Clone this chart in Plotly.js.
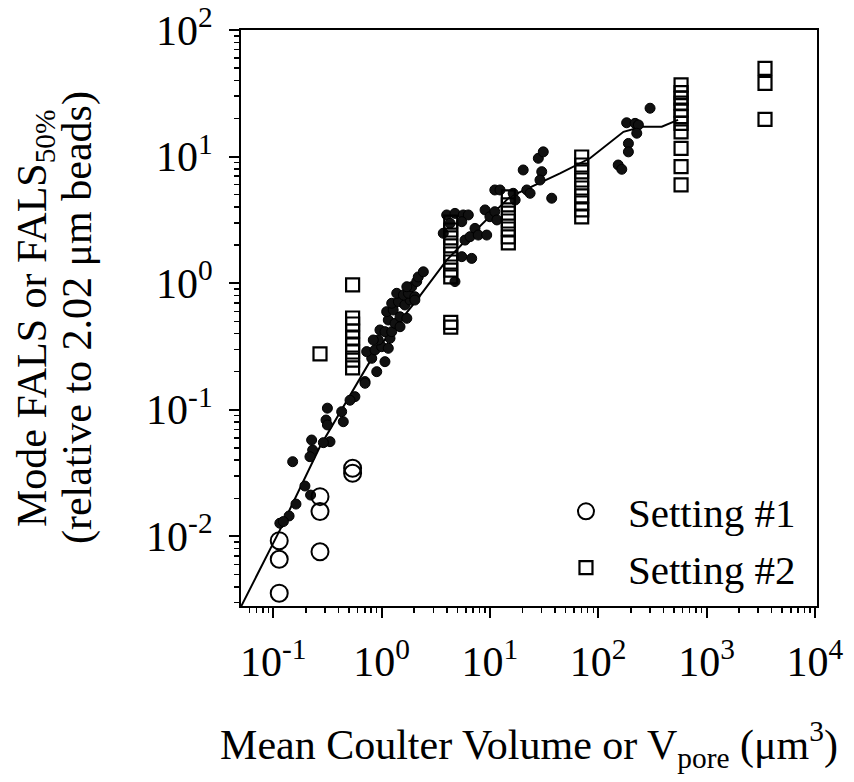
<!DOCTYPE html>
<html>
<head>
<meta charset="utf-8">
<script src="https://cdn.plot.ly/plotly-3.0.1.min.js"></script>
<style>html,body{margin:0;padding:0;background:#fff;}#chart{width:854px;height:782px;}</style>
</head>
<body>
<div id="chart"></div>
<script>
// Filled dots (unlabelled data)
var dotsX = [0.703,0.567,0.511,0.316,0.428,0.443,0.307,0.316,0.334,0.290,0.226,0.231,0.218,0.151,0.196,0.221,0.162,0.140,0.115,0.124,
  0.703,0.902,1.074,0.811,0.728,0.869,1.002,1.153,0.933,0.838,1.196,0.966,1.074,1.24,1.153,1.33,1.48,1.114,1.28,1.48,1.71,1.24,1.43,1.64,1.83,1.38,1.59,1.77,2.03,1.90,2.11,2.18,2.43,2.03,1.71,
  3.71,3.99,4.76,5.68,6.32,4.29,5.50,5.89,6.55,5.50,6.79,4.76,7.28,7.81,9.34,9.02,10.0,11.1,11.6,11.1,12.4,16.4,17.1,21.9,23.5,20.3,28.0,31.1,30.1,29.0,37.2,
  301,183,219,235,227,190,190,153,165];
var dotsY = [0.167,0.127,0.119,0.103,0.0966,0.0805,0.083,0.0759,0.056,0.055,0.0577,0.0481,0.0426,0.0389,0.025,0.0212,0.018,0.0145,0.0127,0.0131,
  0.162,0.200,0.240,0.255,0.288,0.297,0.315,0.306,0.356,0.356,0.367,0.427,0.414,0.414,0.512,0.482,0.453,0.596,0.614,0.543,0.528,0.694,0.714,0.673,0.736,0.832,0.807,0.832,0.782,0.938,1.03,1.12,1.23,0.736,0.938,
  2.48,3.46,3.56,3.46,3.46,2.97,3.06,2.19,2.33,1.62,1.57,1.03,2.71,2.40,2.40,3.79,3.35,3.67,3.16,5.45,5.45,5.13,4.54,5.45,5.13,7.84,9.70,10.9,7.60,6.53,4.69,
  24.1,18.5,18.3,17.8,15.3,12.7,10.9,8.58,7.94];

// Setting #1 (open circles)
var s1X = [0.1135,0.1135,0.1135,0.27,0.27,0.27,0.54,0.54];
var s1Y = [0.00925,0.0066,0.00356,0.0206,0.0157,0.00757,0.0345,0.0315];

// Setting #2 (open squares)
var s2X = [0.27,
  0.54,0.54,0.54,0.54,0.54,0.54,0.54,0.54,0.54,
  4.35,4.35,4.35,4.35,4.35,4.35,4.35,4.35,4.35,4.35,
  14.8,14.8,14.8,14.8,14.8,14.8,14.8,
  70.4,70.4,70.4,70.4,70.4,70.4,70.4,70.4,70.4,
  582,582,582,582,582,582,582,582,582,582,582,
  3467,3467,3467];
var s2Y = [0.276,
  0.968,0.531,0.476,0.419,0.369,0.325,0.286,0.247,0.214,
  0.49,0.45,3.04,2.63,2.28,1.97,1.70,1.47,1.27,1.12,
  4.80,4.15,3.58,3.10,2.68,2.32,2.08,
  9.93,8.58,7.56,6.53,5.65,4.89,4.30,3.79,3.34,
  36.8,32.0,28.9,26.4,23.3,20.7,18.3,15.7,11.6,8.32,5.97,
  49.8,37.9,19.7];

// Fitted curve
var lineX = [0.0505,0.115,0.27,0.902,2.11,3.99,6.55,15.3,44.4,84.0,171,252,386,546];
var lineY = [0.0028,0.0112,0.0512,0.297,0.736,1.52,2.36,4.82,7.38,9.70,15.7,17.2,17.2,19.5];

var tickVals = [0.1,1,10,100,1000,10000];
var tickText = ['10<sup>-1</sup>','10<sup>0</sup>','10<sup>1</sup>','10<sup>2</sup>','10<sup>3</sup>','10<sup>4</sup>'];
var yTickVals = [0.01,0.1,1,10,100];
var yTickText = ['10<sup>-2</sup>','10<sup>-1</sup>','10<sup>0</sup>','10<sup>1</sup>','10<sup>2</sup>'];

var serif = 'Liberation Serif, Times New Roman, serif';
var FS = 42;

var traces = [
  {x: lineX, y: lineY, mode: 'lines', line: {color: '#000', width: 2}, showlegend: false, hoverinfo: 'skip'},
  {x: dotsX, y: dotsY, mode: 'markers', marker: {symbol: 'circle', size: 10, color: '#111', line: {color: '#000', width: 1}}, showlegend: false},
  {x: s1X, y: s1Y, mode: 'markers', name: 'Setting #1', marker: {symbol: 'circle-open', size: 17, color: '#000', line: {width: 2}}},
  {x: s2X, y: s2Y, mode: 'markers', name: 'Setting #2', marker: {symbol: 'square-open', size: 13, color: '#000', line: {width: 2.2}}}
];

var layout = {
  width: 854, height: 782,
  margin: {l: 241, r: 37, t: 30, b: 176},
  paper_bgcolor: '#fff', plot_bgcolor: '#fff',
  font: {family: serif, color: '#000', size: FS},
  showlegend: true,
  legend: {x: 0.526, y: 0.222, xanchor: 'left', yanchor: 'top', bgcolor: 'rgba(0,0,0,0)', borderwidth: 0,
           itemwidth: 74, font: {family: serif, size: 41, color: '#000'}, tracegroupgap: 0},
  xaxis: {
    type: 'log', range: [-1.298, 4.02],
    showline: true, linecolor: '#000', linewidth: 2, mirror: true,
    showgrid: false, zeroline: false,
    ticks: 'outside', ticklen: 10, tickwidth: 2, tickcolor: '#000',
    tickmode: 'array', tickvals: tickVals, ticktext: tickText,
    ticklabelstandoff: 8,
    tickfont: {family: serif, size: FS, color: '#000'},
    minor: {ticks: 'outside', ticklen: 5, tickwidth: 1.5, tickcolor: '#000', dtick: 'D1', showgrid: false},
    title: {text: 'Mean Coulter Volume or V<sub>pore</sub> (μm<sup>3</sup>)', font: {family: serif, size: FS, color: '#000'}, standoff: 45}
  },
  yaxis: {
    type: 'log', range: [-2.55, 2],
    showline: true, linecolor: '#000', linewidth: 2, mirror: true,
    showgrid: false, zeroline: false,
    ticks: 'outside', ticklen: 10, tickwidth: 2, tickcolor: '#000',
    tickmode: 'array', tickvals: yTickVals, ticktext: yTickText,
    ticklabelstandoff: 8,
    tickfont: {family: serif, size: FS, color: '#000'},
    minor: {ticks: 'outside', ticklen: 5, tickwidth: 1.5, tickcolor: '#000', dtick: 'D1', showgrid: false}
  },
  annotations: [
    {xref: 'paper', yref: 'paper', x: (35 - 241) / 576, y: 0.5, xanchor: 'center', yanchor: 'middle', textangle: -90, showarrow: false,
     text: 'Mode FALS or FALS<sub>50%</sub>', font: {family: serif, size: FS, color: '#000'}},
    {xref: 'paper', yref: 'paper', x: (77 - 241) / 576, y: 0.5, xanchor: 'center', yanchor: 'middle', textangle: -90, showarrow: false,
     text: '(relative to 2.02 μm beads)', font: {family: serif, size: FS, color: '#000'}}
  ]
};

Plotly.newPlot('chart', traces, layout, {displayModeBar: false, staticPlot: true});
</script>
</body>
</html>
